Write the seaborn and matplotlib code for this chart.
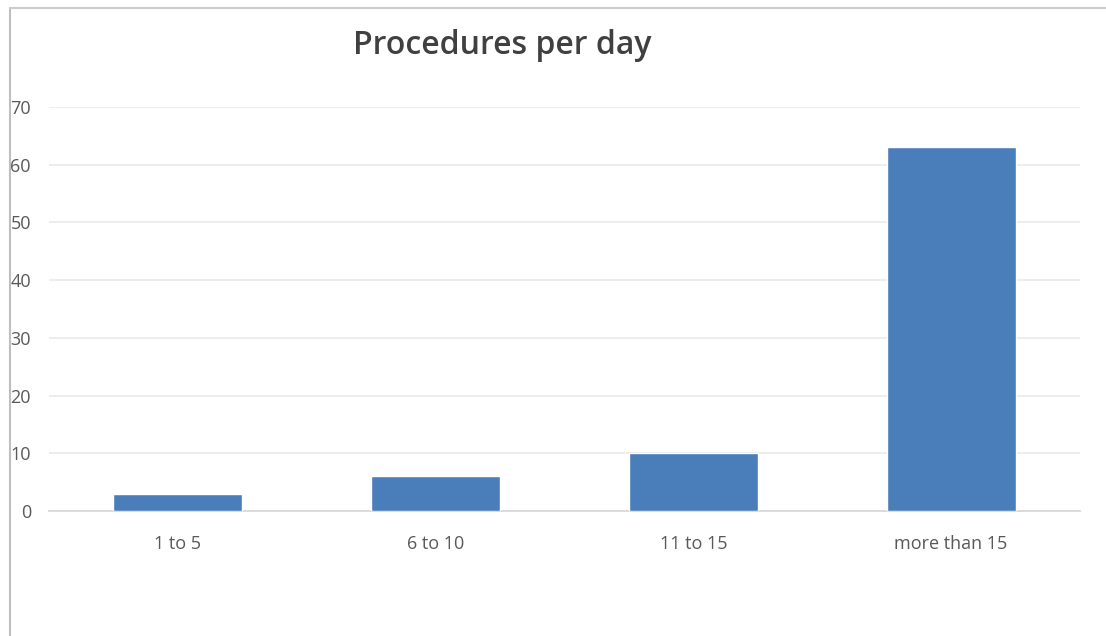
import matplotlib
matplotlib.use("Agg")
import matplotlib.pyplot as plt
from matplotlib.lines import Line2D
import pandas as pd
import seaborn as sns

categories = ["1 to 5", "6 to 10", "11 to 15", "more than 15"]
counts = [3, 6, 10, 63]
y_ticks = [0, 10, 20, 30, 40, 50, 60, 70]

df = pd.DataFrame({"category": categories, "count": counts})

sns.set_theme(style="white")
plt.rcParams["font.family"] = ["Open Sans", "DejaVu Sans"]

fig = plt.figure(figsize=(11.06, 6.36), dpi=100)
ax = fig.add_axes([49 / 1106, 1 - 511 / 636, (1080 - 49) / 1106, (511 - 107) / 636])

sns.barplot(data=df, x="category", y="count", color="#4a7ebb", width=0.5,
            saturation=1, ax=ax, zorder=3)

ax.set_ylim(0, 70)
ax.set_yticks(y_ticks)
ax.set_xlim(-0.5, len(categories) - 0.5)
ax.yaxis.grid(True, color="#ececec", linewidth=1.3, zorder=0)
ax.set_axisbelow(True)
for side in ["top", "right", "left"]:
    ax.spines[side].set_visible(False)
ax.spines["bottom"].set_color("#d9d9d9")
ax.spines["bottom"].set_linewidth(1.3)
ax.tick_params(axis="both", length=0, labelsize=13, labelcolor="#595959")
ax.tick_params(axis="y", pad=13)
ax.tick_params(axis="x", pad=17)
ax.set_xlabel("")
ax.set_ylabel("")

fig.text(502 / 1106, 1 - 46 / 636, "Procedures per day", ha="center", va="center",
         fontsize=23, fontweight="semibold", color="#404040")

# chart frame edges
fig.add_artist(Line2D([10 / 1106, 10 / 1106], [0, 1 - 8 / 636], color="#bfbfbf",
                      linewidth=1.5, transform=fig.transFigure))
fig.add_artist(Line2D([10 / 1106, 1], [1 - 8 / 636, 1 - 8 / 636], color="#cccccc",
                      linewidth=1.5, transform=fig.transFigure))

fig.savefig("out.png", dpi=100, facecolor="white")
